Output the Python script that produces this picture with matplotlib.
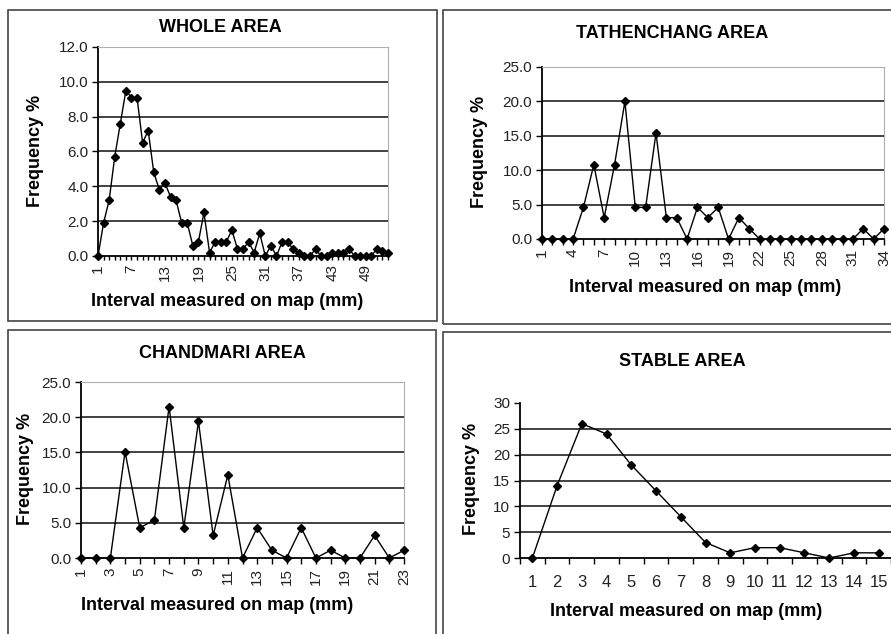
import matplotlib
matplotlib.use("Agg")
import matplotlib.pyplot as plt
from matplotlib.patches import Rectangle

plt.rcParams['font.family'] = ['Liberation Sans', 'DejaVu Sans']

W, H = 891, 634

# data
whole_x = list(range(1, 54))
whole_y = [0.0, 1.9, 3.2, 5.7, 7.6, 9.5, 9.1, 9.1, 6.5, 7.2,
           4.8, 3.8, 4.2, 3.4, 3.2, 1.9, 1.9, 0.6, 0.8, 2.5,
           0.2, 0.8, 0.8, 0.8, 1.5, 0.4, 0.4, 0.8, 0.2, 1.3,
           0.0, 0.6, 0.0, 0.8, 0.8, 0.4, 0.2, 0.0, 0.0, 0.4,
           0.0, 0.0, 0.2, 0.2, 0.2, 0.4, 0.0, 0.0, 0.0, 0.0,
           0.4, 0.3, 0.2]

tath_x = list(range(1, 35))
tath_y = [0.0, 0.0, 0.0, 0.0, 4.6, 10.8, 3.1, 10.8, 20.0, 4.6,
          4.6, 15.4, 3.1, 3.1, 0.0, 4.6, 3.1, 4.6, 0.0, 3.1,
          1.5, 0.0, 0.0, 0.0, 0.0, 0.0, 0.0, 0.0, 0.0, 0.0,
          0.0, 1.5, 0.0, 1.5]

chand_x = list(range(1, 24))
chand_y = [0.0, 0.0, 0.0, 15.1, 4.3, 5.4, 21.5, 4.3, 19.4, 3.2,
           11.8, 0.0, 4.3, 1.1, 0.0, 4.3, 0.0, 1.1, 0.0, 0.0,
           3.2, 0.0, 1.1]

stable_x = list(range(1, 16))
stable_y = [0, 14, 26, 24, 18, 13, 8, 3, 1, 2, 2, 1, 0, 1, 1]

TICK_FS = 11

fig = plt.figure(figsize=(W / 100, H / 100), dpi=100)


def px_axes(l, t, r, b):
    return fig.add_axes([l / W, 1 - b / H, (r - l) / W, (b - t) / H])


def px_text(x, y, s, **kw):
    fig.text(x / W, 1 - y / H, s, ha='center', va='center',
             fontsize=13, fontweight='bold', **kw)


# panel frames
for l, t, r, b in [(8, 10, 437, 321), (443, 10, 895, 324),
                   (8, 330, 436, 640), (443, 332, 895, 640)]:
    fig.patches.append(Rectangle((l / W, 1 - b / H), (r - l) / W, (b - t) / H,
                                 transform=fig.transFigure, fill=False,
                                 edgecolor='#444444', linewidth=1.2))


def style(ax, ymax, ystep, fmt):
    ax.set_ylim(0, ymax)
    yt = [i * ystep for i in range(int(round(ymax / ystep)) + 1)]
    ax.set_yticks(yt)
    ax.set_yticklabels([fmt.format(v) for v in yt], fontsize=TICK_FS, color='#222222')
    for v in yt[1:-1]:
        ax.axhline(v, color='#333333', linewidth=1.3, zorder=1)
    ax.spines['left'].set_color('black')
    ax.spines['bottom'].set_color('black')
    ax.spines['left'].set_linewidth(1.3)
    ax.spines['bottom'].set_linewidth(1.3)
    ax.spines['top'].set_color('#b0b0b0')
    ax.spines['right'].set_color('#b0b0b0')
    ax.tick_params(axis='y', direction='out', length=4, width=1, pad=3)
    ax.tick_params(axis='x', direction='out', length=4, width=1, pad=3)


def cat_axis(ax, xs, step):
    ax.set_xlim(xs[0], xs[-1])
    ax.set_xticks(xs)
    ax.set_xticklabels([str(v) if (v - xs[0]) % step == 0 else '' for v in xs],
                       rotation=90, fontsize=TICK_FS, color='#222222')


# WHOLE AREA
ax = px_axes(98, 47, 388, 256)
ax.plot(whole_x, whole_y, color='black', linewidth=1, marker='D', markersize=4.5, zorder=3, clip_on=False)
style(ax, 12, 2, '{:.1f}')
cat_axis(ax, whole_x, 6)
ax.tick_params(axis='x', length=3)
px_text(220, 27, 'WHOLE AREA')
px_text(227, 302, 'Interval measured on map (mm)')
px_text(36, 151, 'Frequency %', rotation=90)

# TATHENCHANG AREA
ax = px_axes(542, 67, 884, 239)
ax.plot(tath_x, tath_y, color='black', linewidth=1, marker='D', markersize=4.5, zorder=3, clip_on=False)
style(ax, 25, 5, '{:.1f}')
cat_axis(ax, tath_x, 3)
px_text(672, 33, 'TATHENCHANG AREA')
px_text(705, 287, 'Interval measured on map (mm)')
px_text(479, 152, 'Frequency %', rotation=90)

# CHANDMARI AREA
ax = px_axes(81, 382, 404, 558)
ax.plot(chand_x, chand_y, color='black', linewidth=1, marker='D', markersize=4.5, zorder=3, clip_on=False)
style(ax, 25, 5, '{:.1f}')
cat_axis(ax, chand_x, 2)
px_text(222, 353, 'CHANDMARI AREA')
px_text(217, 605, 'Interval measured on map (mm)')
px_text(25, 469, 'Frequency %', rotation=90)

# STABLE AREA
ax = px_axes(520, 403, 891, 558)
ax.plot(stable_x, stable_y, color='black', linewidth=1, marker='D', markersize=4, zorder=3, clip_on=False)
style(ax, 30, 5, '{:.0f}')
ax.set_xlim(0.5, len(stable_x) + 0.5)
ax.set_xticks([v + 0.5 for v in [0] + stable_x])
ax.set_xticklabels([])
ax.set_xticks(stable_x, minor=True)
ax.set_xticklabels([str(v) for v in stable_x], minor=True, fontsize=TICK_FS + 1, color='#222222')
ax.tick_params(axis='x', which='minor', length=0, pad=12)
ax.spines['top'].set_visible(False)
ax.spines['right'].set_visible(False)
px_text(682, 362, 'STABLE AREA')
px_text(686, 612, 'Interval measured on map (mm)')
px_text(472, 479, 'Frequency %', rotation=90)

fig.savefig('out.png', dpi=100)
